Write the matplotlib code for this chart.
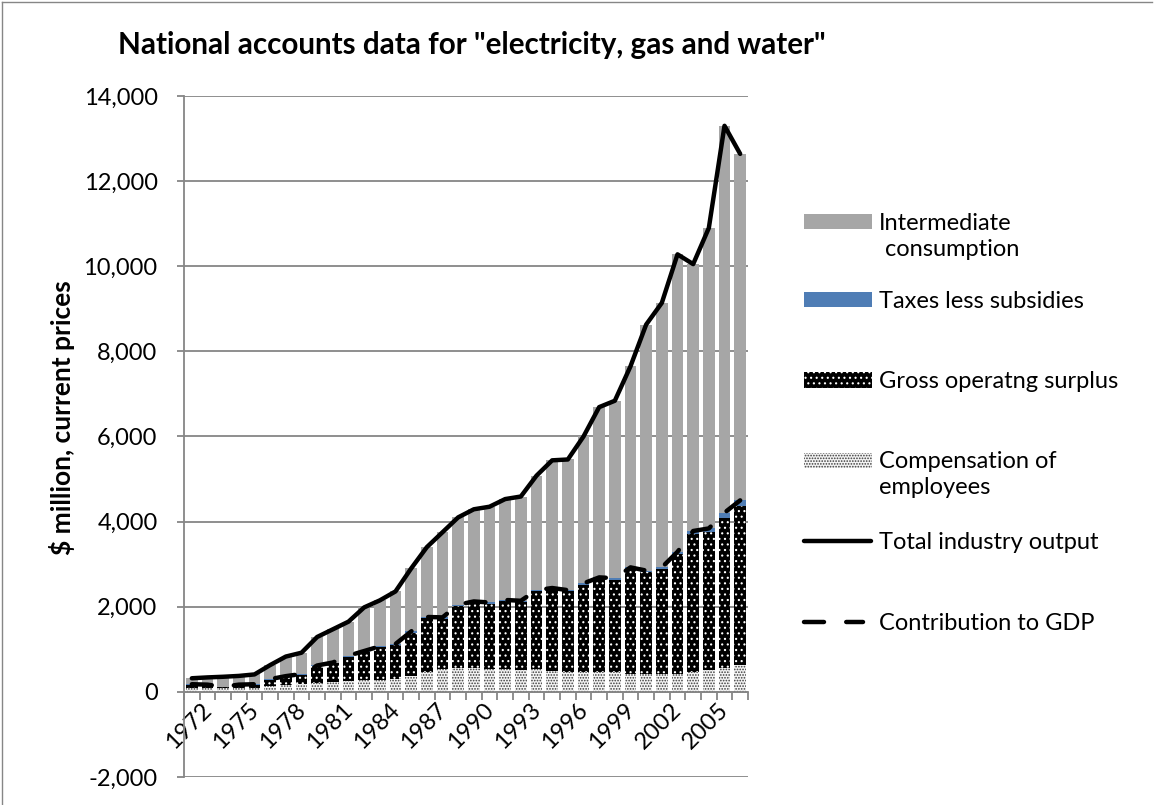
import numpy as np
import matplotlib
matplotlib.use("Agg")
import matplotlib.pyplot as plt
from matplotlib.patches import Rectangle
from matplotlib.lines import Line2D
from matplotlib.ticker import FuncFormatter
import matplotlib.transforms as mtransforms

plt.rcParams['font.family'] = ['Lato', 'DejaVu Sans']

# ---- data ----
years = list(range(1972, 2008))
compensation = [90, 90, 80, 90, 100, 130, 160, 180, 210, 230, 250, 275, 285, 300, 380, 470,
                530, 550, 550, 545, 530, 510, 530, 495, 470, 470, 470, 460, 430, 430, 430, 430,
                470, 510, 570, 640]
gross_surplus = [80, 70, 30, 70, 70, 155, 195, 225, 390, 440, 580, 660, 760, 800, 1015, 1260,
                 1190, 1470, 1545, 1525, 1600, 1600, 1830, 1915, 1890, 2050, 2190, 2180, 2455,
                 2380, 2455, 2810, 3250, 3240, 3520, 3720]
taxes = [10, 10, 10, 10, 10, 15, 15, 15, 20, 20, 20, 25, 25, 25, 25, 30, 30, 30, 30, 30, 30,
         30, 30, 30, 30, 30, 30, 30, 40, 40, 40, 50, 60, 90, 120, 140]
intermediate = [140, 170, 235, 205, 230, 330, 460, 500, 670, 780, 800, 1025, 1080, 1235, 1480,
                1640, 2000, 2050, 2165, 2250, 2370, 2450, 2690, 3000, 3070, 3450, 4000, 4170,
                4725, 5780, 6215, 6990, 6270, 7060, 9090, 8140]
total_output = [320, 340, 355, 375, 410, 630, 830, 920, 1290, 1470, 1650, 1985, 2150, 2360,
                2900, 3400, 3750, 4100, 4290, 4350, 4530, 4590, 5080, 5440, 5460, 6000, 6690,
                6840, 7650, 8630, 9140, 10280, 10050, 10900, 13300, 12640]
gdp_contribution = [180, 170, 120, 170, 180, 300, 370, 420, 620, 690, 850, 960, 1070, 1125,
                    1420, 1760, 1750, 2050, 2125, 2100, 2160, 2140, 2390, 2440, 2390, 2550,
                    2690, 2670, 2925, 2850, 2925, 3290, 3780, 3840, 4210, 4500]
tick_years = years[::3]

title = 'National accounts data for "electricity, gas and water"'
ylabel = '$ million, current prices'
legend_labels = ['Intermediate\n consumption', 'Taxes less subsidies', 'Gross operatng surplus',
                 'Compensation of\nemployees', 'Total industry output', 'Contribution to GDP']

# ---- styles ----
W, H = 1154, 805
GRID = '#868686'
GRAY = '#A6A6A6'
BLUE = '#4F7DB5'
FS = 17
plt.rcParams['hatch.linewidth'] = 0.8

fig = plt.figure(figsize=(W / 100, H / 100), dpi=100)
ax = fig.add_axes([184 / W, (H - 777) / H, (748 - 184) / W, (777 - 96) / H])

x = np.arange(len(years))
comp = np.array(compensation)
gos = np.array(gross_surplus)
tax = np.array(taxes)
inter = np.array(intermediate)
bw = 0.76

comp_style = dict(color='#f4f4f4', edgecolor='#3a3a3a', hatch='......')
gos_style = dict(color='black', edgecolor='white', hatch='...')

ax.bar(x, comp, bw, linewidth=0, zorder=2, **comp_style)
ax.bar(x, gos, bw, bottom=comp, linewidth=0, zorder=2, **gos_style)
ax.bar(x, tax, bw, bottom=comp + gos, color=BLUE, linewidth=0, zorder=2)
ax.bar(x, inter, bw, bottom=comp + gos + tax, color=GRAY, linewidth=0, zorder=2)

ax.plot(x, total_output, color='black', lw=3.2, solid_capstyle='round',
        solid_joinstyle='round', zorder=4)
ax.plot(x, gdp_contribution, color='black', lw=3.2, ls=(0, (4.5, 5)),
        dash_capstyle='round', zorder=4)

ax.set_xlim(-0.5, len(years) - 0.5)
ax.set_ylim(-2000, 14000)
ax.set_yticks(np.arange(-2000, 14001, 2000))
ax.yaxis.set_major_formatter(FuncFormatter(lambda v, p: f'{v:,.0f}'))
ax.yaxis.grid(True, color=GRID, lw=1.3)
ax.set_axisbelow(True)

for s in ['top', 'right']:
    ax.spines[s].set_visible(False)
ax.spines['left'].set_color(GRID)
ax.spines['left'].set_linewidth(1.3)
ax.spines['bottom'].set_position(('data', 0))
ax.spines['bottom'].set_color(GRID)
ax.spines['bottom'].set_linewidth(1.3)

ax.tick_params(axis='y', length=5, width=1.3, color=GRID, labelsize=FS, pad=14)
ax.set_xticks([years.index(t) for t in tick_years])
ax.set_xticklabels([str(t) for t in tick_years], rotation=45, ha='right',
                   rotation_mode='anchor', fontsize=FS)
ax.set_xticks(np.arange(-0.5, len(years), 1), minor=True)
ax.tick_params(axis='x', which='major', length=0, pad=5)
ax.tick_params(axis='x', which='minor', length=6, width=1.3, color=GRID)
offset = mtransforms.ScaledTranslation(9 / 100, 0, fig.dpi_scale_trans)
for lab in ax.get_xticklabels():
    lab.set_transform(lab.get_transform() + offset)

fig.text(472 / W, 1 - 45 / H, title, ha='center', va='center', fontsize=21.3, fontweight='bold')
fig.text(62 / W, 1 - 418 / H, ylabel, ha='center', va='center', rotation=90,
         fontsize=19, fontweight='bold')

# ---- legend ----
ys = [222, 300, 380, 460, 541, 622]
sx0, sx1, sh = 804, 872, 15
swatches = [
    dict(facecolor=GRAY, edgecolor=GRAY),
    dict(facecolor=BLUE, edgecolor=BLUE),
    dict(facecolor='black', edgecolor='white', hatch='...'),
    dict(facecolor='#f4f4f4', edgecolor='#3a3a3a', hatch='......'),
]
for yc, st in zip(ys[:4], swatches):
    fig.add_artist(Rectangle((sx0 / W, 1 - (yc + sh / 2) / H), (sx1 - sx0) / W, sh / H,
                             transform=fig.transFigure, linewidth=0, **st))
fig.add_artist(Line2D([804 / W, 871 / W], [1 - ys[4] / H] * 2, transform=fig.transFigure,
                      color='black', lw=3.2, solid_capstyle='round'))
fig.add_artist(Line2D([804 / W, 863 / W], [1 - ys[5] / H] * 2, transform=fig.transFigure,
                      color='black', lw=3.2, ls=(0, (4.5, 5)), dash_capstyle='round'))
for yc, lab in zip(ys, legend_labels):
    fig.text(879 / W, 1 - (yc - 9) / H, lab, ha='left', va='top', fontsize=FS,
             linespacing=1.3)

# chart-area border (top and left visible)
fig.add_artist(Line2D([2 / W, 2 / W], [0, 1 - 2 / H], transform=fig.transFigure, color=GRID, lw=1))
fig.add_artist(Line2D([2 / W, 1152 / W], [1 - 2 / H] * 2, transform=fig.transFigure, color=GRID, lw=1))

fig.savefig('out.png', dpi=100)
